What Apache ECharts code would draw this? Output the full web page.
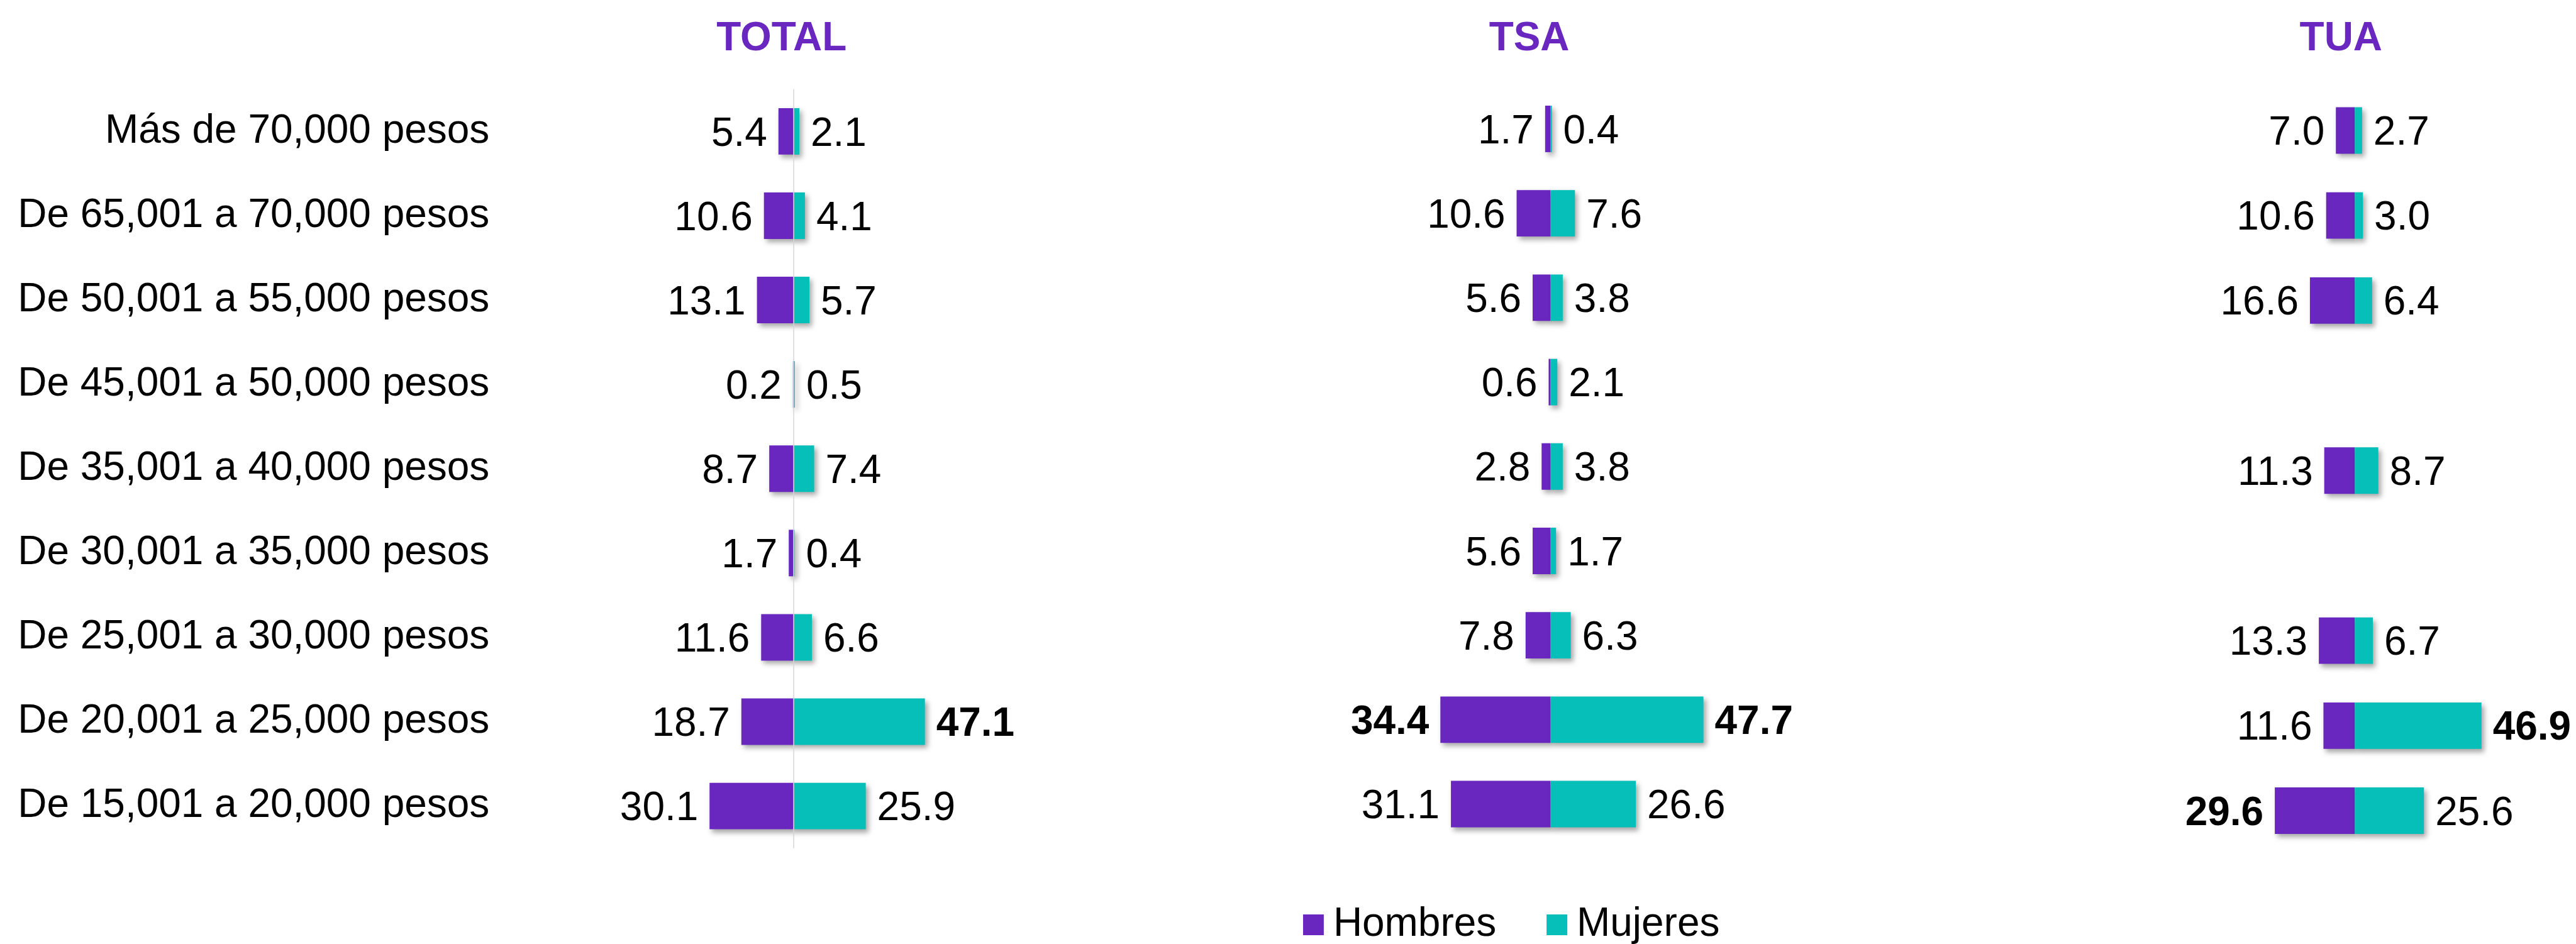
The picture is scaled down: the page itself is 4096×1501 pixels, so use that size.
<!doctype html>
<html lang="es">
<head>
    <meta charset="UTF-8">
    <title>Ingreso por sexo</title>
    <style>
        html, body { margin: 0; padding: 0; background: #fff; }
        #chart { width: 4096px; height: 1501px; }
    </style>
</head>
<body>
<div id="chart"></div>
<script src="https://cdn.jsdelivr.net/npm/echarts@6/dist/echarts.min.js"></script>
<script>
    var S = 0.999;

    // ---------- datos ----------
    var categories = [
        'Más de 70,000 pesos',
        'De 65,001 a 70,000 pesos',
        'De 50,001 a 55,000 pesos',
        'De 45,001 a 50,000 pesos',
        'De 35,001 a 40,000 pesos',
        'De 30,001 a 35,000 pesos',
        'De 25,001 a 30,000 pesos',
        'De 20,001 a 25,000 pesos',
        'De 15,001 a 20,000 pesos'
    ];
    var panelTitles = ['TOTAL', 'TSA', 'TUA'];

    var totalHombres = [5.4, 10.6, 13.1, 0.2, 8.7, 1.7, 11.6, 18.7, 30.1];
    var totalMujeres = [2.1, 4.1, 5.7, 0.5, 7.4, 0.4, 6.6, 47.1, 25.9];
    var tsaHombres = [1.7, 10.6, 5.6, 0.6, 2.8, 5.6, 7.8, 34.4, 31.1];
    var tsaMujeres = [0.4, 7.6, 3.8, 2.1, 3.8, 1.7, 6.3, 47.7, 26.6];
    var tuaHombres = [7.0, 10.6, 16.6, null, 11.3, null, 13.3, 11.6, 29.6];
    var tuaMujeres = [2.7, 3.0, 6.4, null, 8.7, null, 6.7, 46.9, 25.6];

    // etiquetas en negrita: [panel, lado, fila]
    var boldLabels = [[0, 'm', 7], [1, 'h', 7], [1, 'm', 7], [2, 'm', 7], [2, 'h', 8]];

    var hombres = [totalHombres, tsaHombres, tuaHombres];
    var mujeres = [totalMujeres, tsaMujeres, tuaMujeres];

    // ---------- estilo ----------
    var purple = '#6927bf';
    var teal = '#07bfb9';
    var font = 'Liberation Sans, Arial, sans-serif';
    var RANGE = 50;

    // x del cero, px por unidad, top/bottom del grid, centro del titulo
    var layout = [
        { zero: 1263, k: 4.44, top: 142, bottom: 1350, title: 1244 },
        { zero: 2468, k: 5.1, top: 138, bottom: 1347, title: 2434 },
        { zero: 3748, k: 4.3, top: 140, bottom: 1358, title: 3726 }
    ];

    function isBold(p, side, i) {
        for (var j = 0; j < boldLabels.length; j++) {
            var b = boldLabels[j];
            if (b[0] === p && b[1] === side && b[2] === i) return true;
        }
        return false;
    }

    function items(values, side, p) {
        return values.map(function (v, i) {
            if (v == null) return '-';
            var it = { value: side === 'h' ? -v : v };
            if (isBold(p, side, i)) it.label = { fontWeight: 'bold' };
            return it;
        });
    }

    var shadow = {
        shadowColor: 'rgba(0,0,0,0.35)',
        shadowBlur: 8 * S,
        shadowOffsetX: 4 * S,
        shadowOffsetY: 5 * S
    };

    function labelFmt(p) {
        return Math.abs(p.value).toFixed(1);
    }

    var grids = [], xAxes = [], yAxes = [], series = [], graphics = [];

    layout.forEach(function (l, p) {
        var left = (l.zero - RANGE * l.k) * S;
        grids.push({
            left: left,
            top: l.top * S,
            width: 2 * RANGE * l.k * S,
            height: (l.bottom - l.top) * S
        });
        xAxes.push({
            gridIndex: p,
            type: 'value',
            min: -RANGE,
            max: RANGE,
            show: false
        });
        yAxes.push({
            gridIndex: p,
            type: 'category',
            inverse: true,
            data: categories,
            axisLine: { show: false, onZero: false },
            axisTick: { show: false },
            axisLabel: {
                show: p === 0,
                margin: left - 779 * S,
                fontSize: 64 * S,
                fontFamily: font,
                color: '#000',
                padding: [10 * S, 0, 0, 0]
            }
        });

        var base = {
            type: 'bar',
            xAxisIndex: p,
            yAxisIndex: p,
            stack: 'p' + p,
            barWidth: 74 * S,
            emphasis: { disabled: true },
            animation: false
        };

        series.push(echarts.util.extend({
            name: 'Hombres',
            data: items(hombres[p], 'h', p),
            itemStyle: echarts.util.extend({ color: purple }, shadow),
            label: {
                show: true, position: 'left', distance: 18 * S, offset: [0, 5 * S],
                formatter: labelFmt, fontSize: 64 * S, fontFamily: font, color: '#000'
            }
        }, base));

        var m = echarts.util.extend({
            name: 'Mujeres',
            data: items(mujeres[p], 'm', p),
            itemStyle: echarts.util.extend({ color: teal }, shadow),
            label: {
                show: true, position: 'right', distance: 18 * S, offset: [0, 5 * S],
                formatter: labelFmt, fontSize: 64 * S, fontFamily: font, color: '#000'
            }
        }, base);
        if (p === 0) {
            m.markLine = {
                silent: true,
                symbol: 'none',
                label: { show: false },
                lineStyle: { color: '#d6d6d6', width: 1.5, type: 'solid' },
                data: [{ xAxis: 0 }],
                animation: false
            };
        }
        series.push(m);

        graphics.push({
            type: 'text',
            x: l.title * S,
            y: 62 * S,
            style: {
                text: panelTitles[p],
                fill: purple,
                fontSize: 64 * S,
                fontWeight: 'bold',
                fontFamily: font,
                textAlign: 'center',
                textVerticalAlign: 'middle'
            }
        });
    });

    var chart = echarts.init(document.getElementById('chart'));
    chart.setOption({
        backgroundColor: '#fff',
        animation: false,
        graphic: graphics,
        legend: {
            data: ['Hombres', 'Mujeres'],
            left: 2069 * S,
            top: 1435 * S,
            icon: 'rect',
            itemWidth: 33 * S,
            itemHeight: 33 * S,
            itemGap: 80 * S,
            itemStyle: { shadowBlur: 0, shadowOffsetX: 0, shadowOffsetY: 0, shadowColor: 'transparent' },
            textStyle: {
                fontSize: 64 * S,
                fontFamily: font,
                color: '#000',
                padding: [0, 0, 0, 10 * S]
            }
        },
        grid: grids,
        xAxis: xAxes,
        yAxis: yAxes,
        series: series
    });
</script>
</body>
</html>
